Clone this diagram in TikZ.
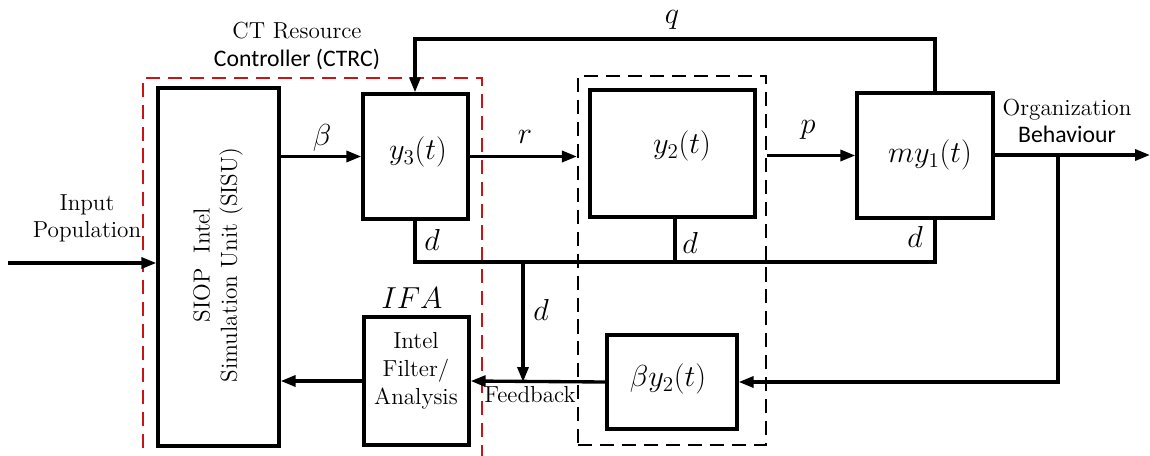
\documentclass[tikz,border=0pt]{standalone}
\usepackage{fontspec}
\newfontfamily\sansf{Carlito}
\usetikzlibrary{arrows.meta,calc}
\definecolor{ctred}{RGB}{200,20,20}
\begin{document}
\begin{tikzpicture}[x=0.02cm,y=-0.02cm,
  box/.style={draw,line width=1.9pt,inner sep=0pt},
  wire/.style={line width=1.9pt},
  arr/.style={wire,-{Triangle[length=0.3cm,width=0.22cm]}},
  lbl/.style={font=\fontsize{13.2}{15.5}\selectfont,align=center,inner sep=0pt},
  mlbl/.style={font=\fontsize{16.5}{19}\selectfont,inner sep=0pt},
  grpbox/.style={draw,line width=1.2pt,dash pattern=on 8pt off 4.5pt,inner sep=0pt},
  redbox/.style={draw=ctred,line width=1.2pt,dash pattern=on 8pt off 4.5pt}]
\useasboundingbox (0,0) rectangle (1150,456);

% controller frame
\draw[redbox] (143,470) -- (143,78) -- (482,78) -- (482,470);
% group frame
\node[grpbox,minimum width=3.76cm,minimum height=7.38cm] (grp) at (672,260.5) {};

% boxes
\node[box,minimum width=2.42cm,minimum height=7.16cm] (sisu) at (218.5,267) {};
\node[lbl,rotate=90] (sisut) at (218,265) {SIOP\ \ Intel\\Simulation Unit (SISU)};
\node[box,minimum width=2.1cm,minimum height=2.5cm] (y3) at (415.5,156.5) {};
\node[mlbl] (y3t) at (418,152) {$y_3(t)$};
\node[box,minimum width=3.3cm,minimum height=2.54cm] (y2) at (672.5,153.5) {};
\node[mlbl] (y2t) at (682,146) {$y_2(t)$};
\node[box,minimum width=2.72cm,minimum height=2.5cm] (my1) at (925,155.5) {};
\node[mlbl] (my1t) at (930,155) {$my_1(t)$};
\node[box,minimum width=2.6cm,minimum height=1.88cm] (by2) at (672,382) {};
\node[mlbl] (by2t) at (668,379) {$\beta y_2(t)$};
\node[box,minimum width=2.1cm,minimum height=2.56cm] (intel) at (416.5,381) {};
\node[lbl,font=\fontsize{13.2}{16}\selectfont] (intelt) at (416,371) {Intel\\Filter/\\Analysis};

% connectors
\coordinate (inp) at (8,263);
\draw[arr] (inp) -- (inp -| sisu.west);
\draw[arr] (sisu.east |- y3) -- (y3.west);
\coordinate (q1) at (935,39);
\coordinate (q2) at (415,39);
\draw[arr] (my1.north -| q1) -- (q1) -- (q2) -- (y3.north -| q2);
\draw[arr] (y3.east) -- (y3.east -| grp.west);
\draw[arr] (grp.east |- my1) -- (my1.west);
\coordinate (out) at (1150,155);
\draw[arr] (my1.east |- out) -- (out);
\coordinate (fb1) at (1058,155);
\draw[arr] (fb1) |- (by2.east);
\draw[arr] (by2.west) -- (intel.east);
\draw[arr] (intel.west) -- (intel.west -| sisu.east);
\coordinate (d1) at (415,262);
\coordinate (d2) at (935,262);
\coordinate (d3) at (675,262);
\coordinate (d4) at (523,262);
\draw[wire] (y3.south -| d1) -- (d1) -- (d2) -- (my1.south -| d2);
\draw[wire] (y2.south -| d3) -- (d3);
\draw[arr] (d4) -- (d4 |- by2);

% labels
\node[mlbl] (lbeta) at (322,138) {$\beta$};
\node[mlbl] (lq) at (672,20) {$q$};
\node[mlbl] (lr) at (525,137) {$r$};
\node[mlbl] (lp) at (808,130) {$p$};
\node[mlbl] (ld1) at (432,240) {$d$};
\node[mlbl] (ld2) at (690,243) {$d$};
\node[mlbl] (ld3) at (915,237) {$d$};
\node[mlbl] (ld4) at (541,310) {$d$};
\node[mlbl] (lifa) at (412,298) {$IFA$};
\node[lbl] (lfb) at (530,395) {Feedback};
\node[lbl] (linput) at (87,218) {Input\\Population};
\node[lbl] (lctrc) at (297,46) {CT Resource\\{\sansf\fontsize{13.5}{15.5}\selectfont Controller (CTRC)}};
\node[lbl] (lorg) at (1067,121) {Organization\\{\sansf\fontsize{13.5}{15.5}\selectfont Behaviour}};
\end{tikzpicture}
\end{document}
